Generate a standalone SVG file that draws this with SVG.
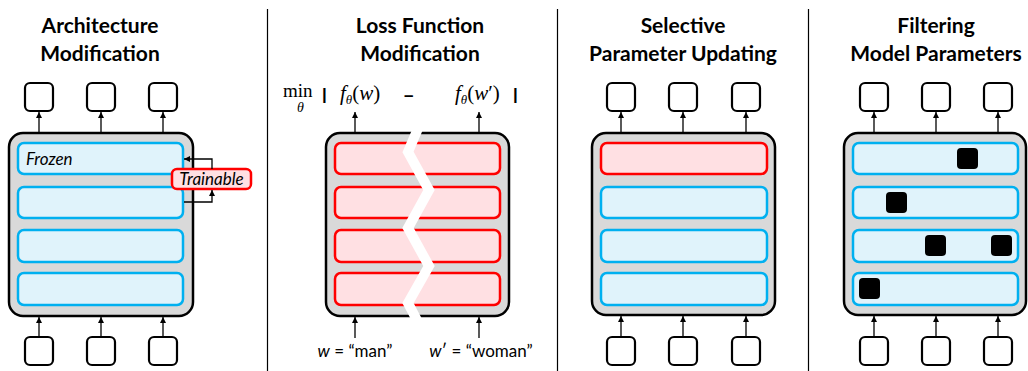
<svg xmlns="http://www.w3.org/2000/svg" width="1028" height="371" viewBox="0 0 1028 371">
<style>
.title{font-family:Lato,"Open Sans",sans-serif;font-weight:bold;font-size:21px;fill:#000;text-anchor:middle}
.lbl{font-family:Lato,"Open Sans",sans-serif;font-size:17px;fill:#000}
.math{font-family:"Liberation Serif","DejaVu Serif",serif;font-size:21px;fill:#000}
.io{fill:#fff;stroke:#000;stroke-width:2.2}
.main{fill:#d9d9d9;stroke:#000;stroke-width:2.5}
.blue{fill:#e0f3fb;stroke:#00b0f0;stroke-width:2.5}
.red{fill:#ffe0e3;stroke:#ff0000;stroke-width:2.5}
.sq{fill:#000}
.arr{stroke:#000;stroke-width:1.3;fill:none;marker-end:url(#ah)}
.div{stroke:#000;stroke-width:1.2}
</style>
<defs>
<marker id="ah" viewBox="0 0 6 6" refX="6" refY="3" markerWidth="6" markerHeight="6" markerUnits="userSpaceOnUse" orient="auto">
<path d="M0,0 L6,3 L0,6 z" fill="#000"/>
</marker>
</defs>
<rect width="1028" height="371" fill="#fff"/>
<g id="dividers">
<line class="div" x1="267.5" y1="9" x2="267.5" y2="371"/>
<line class="div" x1="557.5" y1="9" x2="557.5" y2="371"/>
<line class="div" x1="808.5" y1="9" x2="808.5" y2="371"/>
</g>
<g id="titles">
<text class="title" x="100" y="33">Architecture</text>
<text class="title" x="100" y="61">Modification</text>
<text class="title" x="420" y="33">Loss Function</text>
<text class="title" x="420" y="61">Modification</text>
<text class="title" x="683" y="33">Selective</text>
<text class="title" x="683" y="61">Parameter Updating</text>
<text class="title" x="936" y="33">Filtering</text>
<text class="title" x="936" y="61">Model Parameters</text>
</g>
<!-- Panel 1 -->
<g id="p1-model">
<rect class="main" x="9" y="133" width="184" height="183" rx="14"/>
<rect class="blue" x="18" y="143" width="165" height="31" rx="6"/>
<rect class="blue" x="18" y="187" width="165" height="31" rx="6"/>
<rect class="blue" x="18" y="230" width="165" height="32" rx="6"/>
<rect class="blue" x="18" y="273" width="165" height="32" rx="6"/>
<text class="lbl" x="26" y="165" font-style="italic">Frozen</text>
</g>
<g id="p1-trainable">
<rect class="red" x="172" y="169" width="79" height="20" rx="5"/>
<text class="lbl" x="211.5" y="185" font-style="italic" text-anchor="middle">Trainable</text>
</g>
<g id="p1-out1"><rect class="io" x="25" y="83" width="28" height="28" rx="5"/></g>
<g id="p1-out2"><rect class="io" x="87" y="83" width="28" height="28" rx="5"/></g>
<g id="p1-out3"><rect class="io" x="149" y="83" width="28" height="28" rx="5"/></g>
<g id="p1-in1"><rect class="io" x="25" y="337" width="28" height="28" rx="5"/></g>
<g id="p1-in2"><rect class="io" x="87" y="337" width="28" height="28" rx="5"/></g>
<g id="p1-in3"><rect class="io" x="149" y="337" width="28" height="28" rx="5"/></g>
<!-- Panel 2 -->
<g id="p2-model">
<rect class="main" x="326" y="133" width="183" height="183" rx="14"/>
<rect class="red" x="335" y="143" width="165" height="31" rx="6"/>
<rect class="red" x="335" y="187" width="165" height="31" rx="6"/>
<rect class="red" x="335" y="230" width="165" height="32" rx="6"/>
<rect class="red" x="335" y="273" width="165" height="32" rx="6"/>
<polyline points="419,126 408,152 429,190 408,228 429,266 408,303 419,324" fill="none" stroke="#fff" stroke-width="10" stroke-linejoin="miter"/>
</g>
<g id="p2-formula">
<text class="math" x="283" y="97" style="font-size:19px">min<tspan x="297" dy="15" style="font-size:14px;font-style:italic">θ</tspan></text>
<text x="322" y="100" font-family="Liberation Sans,sans-serif" font-weight="bold" font-size="17">|</text>
<text class="math" x="340" y="100"><tspan font-style="italic">f</tspan><tspan font-style="italic" style="font-size:13px" dy="4">θ</tspan><tspan dy="-4">(</tspan><tspan font-style="italic">w</tspan>)</text>
<text x="404" y="101" font-family="Liberation Sans,sans-serif" font-weight="bold" font-size="17">–</text>
<text class="math" x="455" y="100"><tspan font-style="italic">f</tspan><tspan font-style="italic" style="font-size:13px" dy="4">θ</tspan><tspan dy="-4">(</tspan><tspan font-style="italic">w</tspan>′)</text>
<text x="513" y="100" font-family="Liberation Sans,sans-serif" font-weight="bold" font-size="17">|</text>
</g>
<g id="p2-in1"><text class="lbl" x="355" y="357" text-anchor="middle"><tspan font-style="italic">w</tspan> = “man”</text></g>
<g id="p2-in2"><text class="lbl" x="481" y="357" text-anchor="middle"><tspan font-style="italic">w</tspan>′ = “woman”</text></g>
<!-- Panel 3 -->
<g id="p3-model">
<rect class="main" x="592" y="133" width="183" height="182" rx="14"/>
<rect class="red" x="601" y="143" width="166" height="31" rx="6"/>
<rect class="blue" x="601" y="187" width="166" height="31" rx="6"/>
<rect class="blue" x="601" y="230" width="166" height="32" rx="6"/>
<rect class="blue" x="601" y="273" width="166" height="32" rx="6"/>
</g>
<g id="p3-out1"><rect class="io" x="607" y="83" width="28" height="28" rx="5"/></g>
<g id="p3-out2"><rect class="io" x="669" y="83" width="28" height="28" rx="5"/></g>
<g id="p3-out3"><rect class="io" x="732" y="83" width="28" height="28" rx="5"/></g>
<g id="p3-in1"><rect class="io" x="607" y="337" width="28" height="28" rx="5"/></g>
<g id="p3-in2"><rect class="io" x="669" y="337" width="28" height="28" rx="5"/></g>
<g id="p3-in3"><rect class="io" x="732" y="337" width="28" height="28" rx="5"/></g>
<!-- Panel 4 -->
<g id="p4-model">
<rect class="main" x="844" y="133" width="182" height="182" rx="14"/>
<rect class="blue" x="853" y="143" width="165" height="31" rx="6"/>
<rect class="blue" x="853" y="187" width="165" height="31" rx="6"/>
<rect class="blue" x="853" y="230" width="165" height="32" rx="6"/>
<rect class="blue" x="853" y="273" width="165" height="32" rx="6"/>
<rect class="sq" x="957" y="148" width="21" height="21" rx="4"/>
<rect class="sq" x="886" y="192" width="21" height="21" rx="4"/>
<rect class="sq" x="925" y="235" width="21" height="21" rx="4"/>
<rect class="sq" x="991" y="235" width="21" height="21" rx="4"/>
<rect class="sq" x="859" y="278" width="21" height="21" rx="4"/>
</g>
<g id="p4-out1"><rect class="io" x="860" y="83" width="28" height="28" rx="5"/></g>
<g id="p4-out2"><rect class="io" x="922" y="83" width="28" height="28" rx="5"/></g>
<g id="p4-out3"><rect class="io" x="984" y="83" width="28" height="28" rx="5"/></g>
<g id="p4-in1"><rect class="io" x="860" y="337" width="28" height="28" rx="5"/></g>
<g id="p4-in2"><rect class="io" x="922" y="337" width="28" height="28" rx="5"/></g>
<g id="p4-in3"><rect class="io" x="984" y="337" width="28" height="28" rx="5"/></g>
<g id="connectors">
<line class="arr" x1="39" y1="133" x2="39" y2="112"/>
<line class="arr" x1="101" y1="133" x2="101" y2="112"/>
<line class="arr" x1="163" y1="133" x2="163" y2="112"/>
<line class="arr" x1="39" y1="337" x2="39" y2="317"/>
<line class="arr" x1="101" y1="337" x2="101" y2="317"/>
<line class="arr" x1="163" y1="337" x2="163" y2="317"/>
<polyline class="arr" points="212,169 212,159 184,159"/>
<polyline class="arr" points="184,202 212,202 212,190"/>
<line class="arr" x1="355" y1="133" x2="355" y2="112"/>
<line class="arr" x1="479" y1="133" x2="479" y2="112"/>
<line class="arr" x1="355" y1="338" x2="355" y2="317"/>
<line class="arr" x1="479" y1="338" x2="479" y2="317"/>
<line class="arr" x1="621" y1="133" x2="621" y2="112"/>
<line class="arr" x1="683" y1="133" x2="683" y2="112"/>
<line class="arr" x1="746" y1="133" x2="746" y2="112"/>
<line class="arr" x1="621" y1="337" x2="621" y2="316"/>
<line class="arr" x1="683" y1="337" x2="683" y2="316"/>
<line class="arr" x1="746" y1="337" x2="746" y2="316"/>
<line class="arr" x1="874" y1="133" x2="874" y2="112"/>
<line class="arr" x1="936" y1="133" x2="936" y2="112"/>
<line class="arr" x1="998" y1="133" x2="998" y2="112"/>
<line class="arr" x1="874" y1="337" x2="874" y2="316"/>
<line class="arr" x1="936" y1="337" x2="936" y2="316"/>
<line class="arr" x1="998" y1="337" x2="998" y2="316"/>
</g>
</svg>
